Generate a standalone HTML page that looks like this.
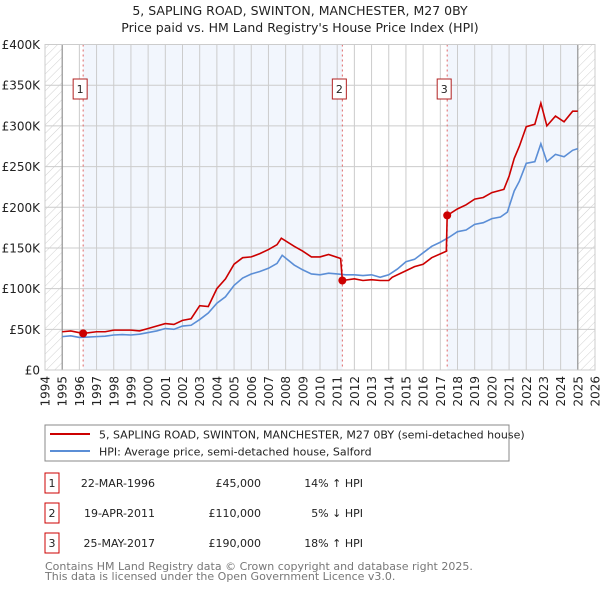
<!DOCTYPE html>
<html><head><meta charset="utf-8"><style>
body{margin:0;background:#fff;font-family:"DejaVu Sans","Liberation Sans",sans-serif;}
svg text{font-family:"DejaVu Sans","Liberation Sans",sans-serif;}
</style></head><body>
<svg id="c" width="600" height="590" viewBox="0 0 600 590" xmlns="http://www.w3.org/2000/svg">
<defs><pattern id="hatch" width="6" height="6" patternUnits="userSpaceOnUse" patternTransform="rotate(45)"><line x1="0" y1="0" x2="0" y2="6" stroke="#d0d0d0" stroke-width="1"/></pattern></defs>
<text x="300" y="15" text-anchor="middle" font-size="12.5" fill="#222">5, SAPLING ROAD, SWINTON, MANCHESTER, M27 0BY</text>
<text x="300" y="32" text-anchor="middle" font-size="12.5" fill="#222">Price paid vs. HM Land Registry's House Price Index (HPI)</text>
<g id="plot"></g>
<rect x="45" y="425" width="464" height="36" fill="#fff" stroke="#888"/>
<line x1="50" y1="434" x2="90" y2="434" stroke="#cc0000" stroke-width="2"/>
<text x="99" y="438.5" font-size="11" fill="#222">5, SAPLING ROAD, SWINTON, MANCHESTER, M27 0BY (semi-detached house)</text>
<line x1="50" y1="451" x2="90" y2="451" stroke="#5b8ed6" stroke-width="2"/>
<text x="99" y="455.5" font-size="11" fill="#222">HPI: Average price, semi-detached house, Salford</text>
<g id="table" font-size="11" fill="#222"></g>
<text x="45" y="570" font-size="11" fill="#777">Contains HM Land Registry data © Crown copyright and database right 2025.</text>
<text x="45" y="580" font-size="11" fill="#777">This data is licensed under the Open Government Licence v3.0.</text>
</svg>
<script>
const yTicks=[0,50,100,150,200,250,300,350,400];
const yTickLabels=["£0","£50K","£100K","£150K","£200K","£250K","£300K","£350K","£400K"];
const xYears=[1994,1995,1996,1997,1998,1999,2000,2001,2002,2003,2004,2005,2006,2007,2008,2009,2010,2011,2012,2013,2014,2015,2016,2017,2018,2019,2020,2021,2022,2023,2024,2025,2026];
const hpiT=[1995,1995.5,1996,1996.5,1997,1997.5,1998,1998.5,1999,1999.5,2000,2000.5,2001,2001.5,2002,2002.5,2003,2003.5,2004,2004.5,2005,2005.5,2006,2006.5,2007,2007.5,2007.8,2008.5,2009,2009.5,2010,2010.5,2011,2011.5,2012,2012.5,2013,2013.5,2014,2014.5,2015,2015.5,2016,2016.5,2017,2017.5,2018,2018.5,2019,2019.5,2020,2020.5,2020.9,2021.3,2021.6,2022,2022.5,2022.85,2023.2,2023.7,2024.2,2024.7,2025];
const hpiV=[41,42,40,40.5,41,41.5,43,43.5,43,44,46,48,51,50,54,55,62,70,82,90,104,113,118,121,125,131,141,129,123,118,117,119,118,117,117,116,117,114,117,124,133,136,144,152,157,163,170,172,179,181,186,188,194,220,232,254,256,278,256,265,262,270,272];
const redT=[1995,1995.5,1996.22,1997,1997.5,1998,1999,1999.5,2000,2001,2001.5,2002,2002.5,2003,2003.5,2004,2004.5,2005,2005.5,2006,2006.5,2007,2007.5,2007.75,2008.5,2009,2009.5,2010,2010.5,2011.2,2011.3,2012,2012.5,2013,2013.5,2014,2014.2,2015,2015.5,2016,2016.5,2017.35,2017.4,2018,2018.5,2019,2019.5,2020,2020.7,2021,2021.3,2021.6,2022,2022.5,2022.85,2023.2,2023.7,2024.2,2024.7,2025];
const redV=[47,48,45,47,47,49,49,48,51,57,56,61,63,79,78,100,112,130,138,139,143,148,154,162,152,146,139,139,142,137,110,112,110,111,110,110,114,122,127,130,138,146,190,198,203,210,212,218,222,238,260,275,299,302,328,300,312,305,318,318];
const sales=[{n:"1",t:1996.22,v:45,date:"22-MAR-1996",price:"£45,000",hpi:"14% ↑ HPI"},{n:"2",t:2011.3,v:110,date:"19-APR-2011",price:"£110,000",hpi:"5% ↓ HPI"},{n:"3",t:2017.4,v:190,date:"25-MAY-2017",price:"£190,000",hpi:"18% ↑ HPI"}];
const X0=45,X1=595,Y0=370,Y1=44.5;
const xs=t=>X0+(t-1994)/(32)*(X1-X0);
const ys=v=>Y0-v/400*(Y0-Y1);
const NS="http://www.w3.org/2000/svg";
const g=document.getElementById('plot');
function mk(tag,attrs,parent){const e=document.createElementNS(NS,tag);for(const k in attrs)e.setAttribute(k,attrs[k]);(parent||g).appendChild(e);return e;}
let e;
e=mk('rect',{x:X0,y:Y1,width:X1-X0,height:Y0-Y1,fill:'#fff'});


e=mk('rect',{x:xs(sales[0].t),y:Y1,width:xs(sales[1].t)-xs(sales[0].t),height:Y0-Y1,fill:'#f2f6fd'});


e=mk('rect',{x:xs(sales[2].t),y:Y1,width:xs(2025)-xs(sales[2].t),height:Y0-Y1,fill:'#f2f6fd'});


e=mk('rect',{x:xs(1994),y:Y1,width:xs(1995)-xs(1994),height:Y0-Y1,fill:'url(#hatch)'});


e=mk('rect',{x:xs(2025),y:Y1,width:xs(2026)-xs(2025),height:Y0-Y1,fill:'url(#hatch)'});


yTicks.forEach((v,i)=>{
 e=mk('line',{x1:X0,x2:X1,y1:ys(v),y2:ys(v),stroke:'#ccc','stroke-width':1});
 
 
 e=mk('text',{x:40,y:ys(v)+4.5,'text-anchor':'end','font-size':12,fill:'#222'});
 e.textContent=yTickLabels[i];
 
 
});
xYears.forEach(yr=>{
 e=mk('line',{x1:xs(yr),x2:xs(yr),y1:Y1,y2:Y0,stroke:'#ccc','stroke-width':1});
 
 
 e=mk('text',{x:0,y:0,'text-anchor':'end','font-size':12,fill:'#222',transform:`translate(${xs(yr)+4.5},376) rotate(-90)`});
 e.textContent=yr;
 
 
});
[1995,2025].forEach(yr=>{
 e=mk('line',{x1:xs(yr),x2:xs(yr),y1:Y1,y2:Y0,stroke:'#888','stroke-width':1});
 
 
});
sales.forEach(s=>{
 e=mk('line',{x1:xs(s.t),x2:xs(s.t),y1:Y1,y2:Y0,stroke:'#e06666','stroke-width':1,'stroke-dasharray':'2,3'});
 
 
});
e=mk('polyline',{points:hpiT.map((t,i)=>xs(t)+','+ys(hpiV[i])).join(' '),fill:'none',stroke:'#5b8ed6','stroke-width':1.6});


e=mk('polyline',{points:redT.map((t,i)=>xs(t)+','+ys(redV[i])).join(' '),fill:'none',stroke:'#cc0000','stroke-width':1.6});


sales.forEach(s=>{
 e=mk('circle',{cx:xs(s.t),cy:ys(s.v),r:4,fill:'#cc0000'});
 
 
 e=mk('rect',{x:xs(s.t)-10,y:79,width:14,height:20,fill:'#fff',stroke:'#b22222'});
 
 
 e=mk('text',{x:xs(s.t)-3,y:93,'text-anchor':'middle','font-size':11,fill:'#222'});
 e.textContent=s.n;
 
 
});
e=mk('rect',{x:X0,y:Y1,width:X1-X0,height:Y0-Y1,fill:'none',stroke:'#ccc'});


const tg=document.getElementById('table');
sales.forEach((s,i)=>{
 const cy=483+i*30;
 e=mk('rect',{x:45,y:cy-10,width:14,height:20,fill:'#fff',stroke:'#cc0000'},tg);
 
 
 e=mk('text',{x:52,y:cy+4,'text-anchor':'middle'},tg);e.textContent=s.n;
 
 
 e=mk('text',{x:155,y:cy+4,'text-anchor':'end'},tg);e.textContent=s.date;
 
 
 e=mk('text',{x:261,y:cy+4,'text-anchor':'end'},tg);e.textContent=s.price;
 
 
 e=mk('text',{x:363,y:cy+4,'text-anchor':'end'},tg);e.textContent=s.hpi;
 
 
});
</script>
</body></html>
